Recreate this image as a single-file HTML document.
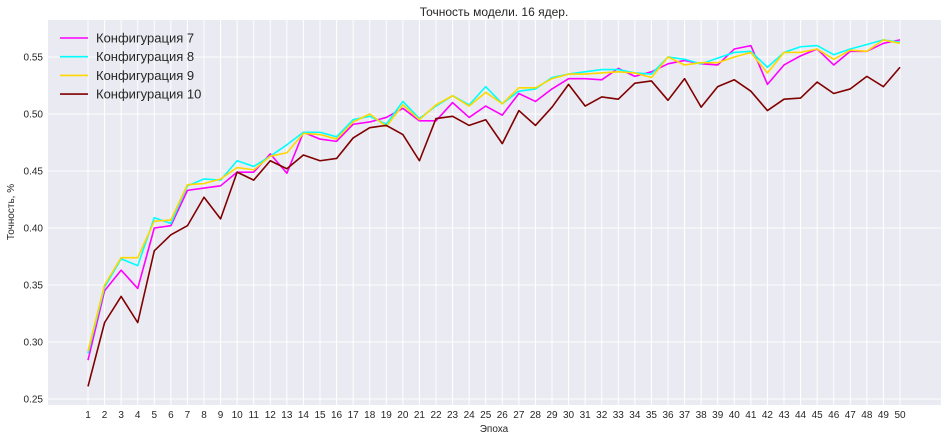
<!DOCTYPE html>
<html><head><meta charset="utf-8"><style>
body{margin:0;background:#fff;font-family:"Liberation Sans","DejaVu Sans",sans-serif;}
svg text{font-family:"Liberation Sans","DejaVu Sans",sans-serif;}
</style></head><body>
<svg id="chart" width="947" height="440" viewBox="0 0 947 440" xmlns="http://www.w3.org/2000/svg">
<rect x="48" y="20" width="893" height="385" fill="#eaeaf2"/>
<g id="grid"></g>
<g id="lines"></g>
<g id="ticks"></g>
<text x="494" y="16" font-size="12" text-anchor="middle" fill="#262626">Точность модели. 16 ядер.</text>
<text x="494" y="432" font-size="10" text-anchor="middle" fill="#262626">Эпоха</text>
<text transform="translate(14,212) rotate(-90)" font-size="10" text-anchor="middle" fill="#262626">Точность, %</text>
<g id="legend"></g>
</svg>
<script>
const epochs = Array.from({length:50},(_,i)=>i+1);
const yTicks = [0.25,0.30,0.35,0.40,0.45,0.50,0.55];
const seriesNames = ["Конфигурация 7","Конфигурация 8","Конфигурация 9","Конфигурация 10"];
const seriesColors = ["#ff00ff","#00ffff","#ffd700","#800000"];
const conf7 = [0.284,0.345,0.363,0.347,0.400,0.402,0.433,0.435,0.437,0.449,0.449,0.465,0.448,0.484,0.478,0.476,0.491,0.493,0.497,0.505,0.494,0.494,0.510,0.497,0.507,0.499,0.518,0.511,0.522,0.531,0.531,0.530,0.540,0.533,0.537,0.544,0.547,0.544,0.543,0.557,0.560,0.526,0.543,0.551,0.557,0.543,0.555,0.555,0.562,0.565];
const conf8 = [0.290,0.348,0.373,0.367,0.409,0.404,0.437,0.443,0.442,0.459,0.454,0.463,0.473,0.484,0.484,0.480,0.495,0.498,0.491,0.511,0.496,0.507,0.516,0.508,0.524,0.509,0.520,0.522,0.532,0.535,0.537,0.539,0.539,0.536,0.535,0.550,0.548,0.544,0.549,0.554,0.555,0.541,0.554,0.559,0.560,0.552,0.557,0.561,0.565,0.563];
const conf9 = [0.292,0.350,0.374,0.374,0.406,0.407,0.438,0.439,0.443,0.453,0.451,0.463,0.466,0.483,0.482,0.478,0.493,0.500,0.489,0.508,0.495,0.508,0.516,0.507,0.519,0.509,0.523,0.523,0.531,0.535,0.535,0.536,0.537,0.536,0.532,0.550,0.543,0.545,0.545,0.550,0.554,0.536,0.554,0.554,0.557,0.548,0.556,0.555,0.565,0.562];
const conf10 = [0.261,0.317,0.340,0.317,0.380,0.394,0.402,0.427,0.408,0.449,0.442,0.459,0.452,0.464,0.459,0.461,0.479,0.488,0.490,0.482,0.459,0.496,0.498,0.490,0.495,0.474,0.503,0.490,0.506,0.526,0.507,0.515,0.513,0.527,0.529,0.512,0.531,0.506,0.524,0.530,0.520,0.503,0.513,0.514,0.528,0.518,0.522,0.533,0.524,0.541];
const allSeries = [conf7,conf8,conf9,conf10];

const NS="http://www.w3.org/2000/svg";
const xS = e => 88 + (e-1)*(900-88)/49;
const yS = v => 399 - (v-0.25)/0.05*57;
function mk(tag, parent){const el=document.createElementNS(NS,tag);document.getElementById(parent).appendChild(el);return el;}

epochs.forEach(e=>{
  const l=mk('line','grid');
  
  
  l.setAttribute('x1',xS(e));l.setAttribute('x2',xS(e));l.setAttribute('y1',20);l.setAttribute('y2',405);
  l.setAttribute('stroke','#fff');l.setAttribute('stroke-width','1');
  const t=mk('text','ticks');
  
  
  t.setAttribute('x',xS(e));t.setAttribute('y',418);t.setAttribute('font-size','10');
  t.setAttribute('text-anchor','middle');t.setAttribute('fill','#262626');t.textContent=e;
});
yTicks.forEach(v=>{
  const l=mk('line','grid');
  
  
  l.setAttribute('x1',48);l.setAttribute('x2',941);l.setAttribute('y1',yS(v));l.setAttribute('y2',yS(v));
  l.setAttribute('stroke','#fff');l.setAttribute('stroke-width','1');
  const t=mk('text','ticks');
  
  
  t.setAttribute('x',43);t.setAttribute('y',yS(v)+3.5);t.setAttribute('font-size','10');
  t.setAttribute('text-anchor','end');t.setAttribute('fill','#262626');t.textContent=v.toFixed(2);
});
allSeries.forEach((s,i)=>{
  const p=mk('polyline','lines');
  
  
  p.setAttribute('points',s.map((v,k)=>xS(epochs[k])+','+yS(v)).join(' '));
  p.setAttribute('fill','none');p.setAttribute('stroke',seriesColors[i]);p.setAttribute('stroke-width','1.6');
  p.setAttribute('stroke-linejoin','round');
});
seriesNames.forEach((n,i)=>{
  const y=38+i*18.7;
  const l=mk('line','legend');
  
  
  l.setAttribute('x1',60);l.setAttribute('x2',88);l.setAttribute('y1',y);l.setAttribute('y2',y);
  l.setAttribute('stroke',seriesColors[i]);l.setAttribute('stroke-width','1.6');
  const t=mk('text','legend');
  
  
  t.setAttribute('x',96);t.setAttribute('y',y+4.5);t.setAttribute('font-size','13');
  t.setAttribute('fill','#262626');t.textContent=n;
});
</script>
</body></html>
